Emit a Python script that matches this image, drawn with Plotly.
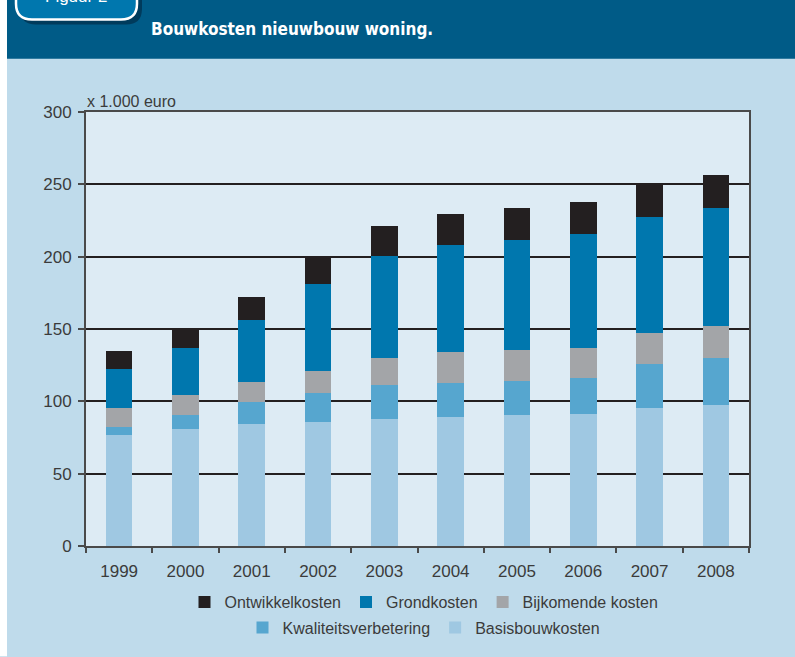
import plotly.graph_objects as go

years = ["1999", "2000", "2001", "2002", "2003", "2004", "2005", "2006", "2007", "2008"]
basisbouwkosten = [76.7, 80.8, 84.2, 85.6, 87.7, 89.0, 90.4, 91.1, 95.2, 97.3]
kwaliteitsverbetering = [5.7, 9.6, 15.1, 19.9, 23.3, 24.0, 24.0, 24.7, 30.8, 32.8]
bijkomende_kosten = [12.8, 13.7, 14.4, 15.7, 19.1, 21.2, 21.2, 21.2, 21.3, 21.9]
grondkosten = [27.4, 32.9, 42.5, 59.6, 70.6, 74.0, 76.0, 78.8, 80.1, 81.6]
ontwikkelkosten = [12.3, 13.7, 15.7, 18.7, 20.5, 21.3, 22.0, 21.9, 22.4, 22.6]

y_ticks = [0, 50, 100, 150, 200, 250, 300]

W, H = 795, 657
L, R, T, B = 86, 749, 112, 553
PW, PH = R - L, B - T


def px(x):
    return (x - L) / PW


def py(y):
    return (B - y) / PH


FONT = "Liberation Sans, Arial, sans-serif"
TXT = "#3b3b3b"

fig = go.Figure()
series = [
    ("Basisbouwkosten", basisbouwkosten, "#9fc8e2", "legend2"),
    ("Kwaliteitsverbetering", kwaliteitsverbetering, "#56a6cf", "legend2"),
    ("Bijkomende kosten", bijkomende_kosten, "#a3a5a8", "legend"),
    ("Grondkosten", grondkosten, "#0077ae", "legend"),
    ("Ontwikkelkosten", ontwikkelkosten, "#231f20", "legend"),
]
for name, vals, col, lg in series:
    fig.add_trace(go.Bar(x=years, y=vals, name=name, marker=dict(color=col, line=dict(width=0)),
                         legend=lg))


def rounded_path(x0, y0, x1, y1, r):
    def P(x, y):
        return f"{px(x):.5f},{py(y):.5f}"
    return (f"M {P(x0, y0)} L {P(x0, y1 - r)} Q {P(x0, y1)} {P(x0 + r, y1)} "
            f"L {P(x1 - r, y1)} Q {P(x1, y1)} {P(x1, y1 - r)} L {P(x1, y0)} Z")


shapes = [
    dict(type="rect", xref="paper", yref="paper", x0=px(-5), x1=px(7), y0=py(665), y1=py(-5),
         fillcolor="white", line=dict(width=0), layer="below"),
    dict(type="rect", xref="paper", yref="paper", x0=px(7), x1=px(800), y0=py(58), y1=py(-5),
         fillcolor="#005b87", line=dict(width=0), layer="below"),
    dict(type="path", xref="paper", yref="paper", path=rounded_path(20, -20, 142, 23, 16),
         fillcolor="rgba(0,20,40,0.45)", line=dict(width=0), layer="below"),
    dict(type="path", xref="paper", yref="paper", path=rounded_path(16, -20, 137, 18, 16),
         fillcolor="#0077ae", line=dict(color="white", width=2.5), layer="below"),
]

annotations = [
    dict(text="Figuur 2", xref="paper", yref="paper", x=px(76), y=py(-5), xanchor="center",
         yanchor="middle", showarrow=False, font=dict(family=FONT, size=17, color="white")),
    dict(text="<b>Bouwkosten nieuwbouw woning.</b>", xref="paper", yref="paper", x=px(149), y=py(28),
         xanchor="left", yanchor="middle", showarrow=False,
         font=dict(family="Liberation Sans Narrow, DejaVu Sans Condensed, Arial Narrow, sans-serif",
                   size=17, color="white")),
    dict(text="x 1.000 euro", xref="paper", yref="paper", x=px(85), y=py(101), xanchor="left",
         yanchor="middle", showarrow=False, font=dict(family=FONT, size=16, color=TXT)),
]

fig.update_layout(
    width=W, height=H,
    margin=dict(l=L, r=W - R, t=T, b=H - B, pad=0),
    paper_bgcolor="#bfdbeb",
    plot_bgcolor="#ddebf4",
    barmode="stack",
    bargap=0.6,
    shapes=shapes,
    annotations=annotations,
    font=dict(family=FONT, size=16, color=TXT),
    legend=dict(orientation="h", traceorder="reversed", x=px(424), xanchor="center",
                y=py(610), yanchor="middle", bgcolor="rgba(0,0,0,0)",
                font=dict(family=FONT, size=16, color=TXT), itemwidth=30),
    legend2=dict(orientation="h", traceorder="reversed", x=px(424), xanchor="center",
                 y=py(636), yanchor="middle", bgcolor="rgba(0,0,0,0)",
                 font=dict(family=FONT, size=16, color=TXT), itemwidth=30),
    xaxis=dict(showgrid=False, showline=True, linecolor="#4a4a4a", linewidth=2, mirror=True,
               ticks="outside", tickson="boundaries", ticklen=5, tickwidth=1.5, tickcolor="#4a4a4a",
               ticklabelstandoff=9,
               tickfont=dict(family=FONT, size=17, color=TXT), fixedrange=True),
    yaxis=dict(range=[0, 300], tickvals=y_ticks, showgrid=True, gridcolor="#231f20", gridwidth=1.5,
               showline=True, linecolor="#4a4a4a", linewidth=2, mirror=True,
               ticks="outside", ticklen=6, tickwidth=1.5, tickcolor="#4a4a4a",
               ticklabelstandoff=3,
               tickfont=dict(family=FONT, size=17, color=TXT), zeroline=False, fixedrange=True),
)

fig.write_html("out.html", config={"displayModeBar": False},
               post_script="document.body.style.margin='0';document.body.style.overflow='hidden';")
